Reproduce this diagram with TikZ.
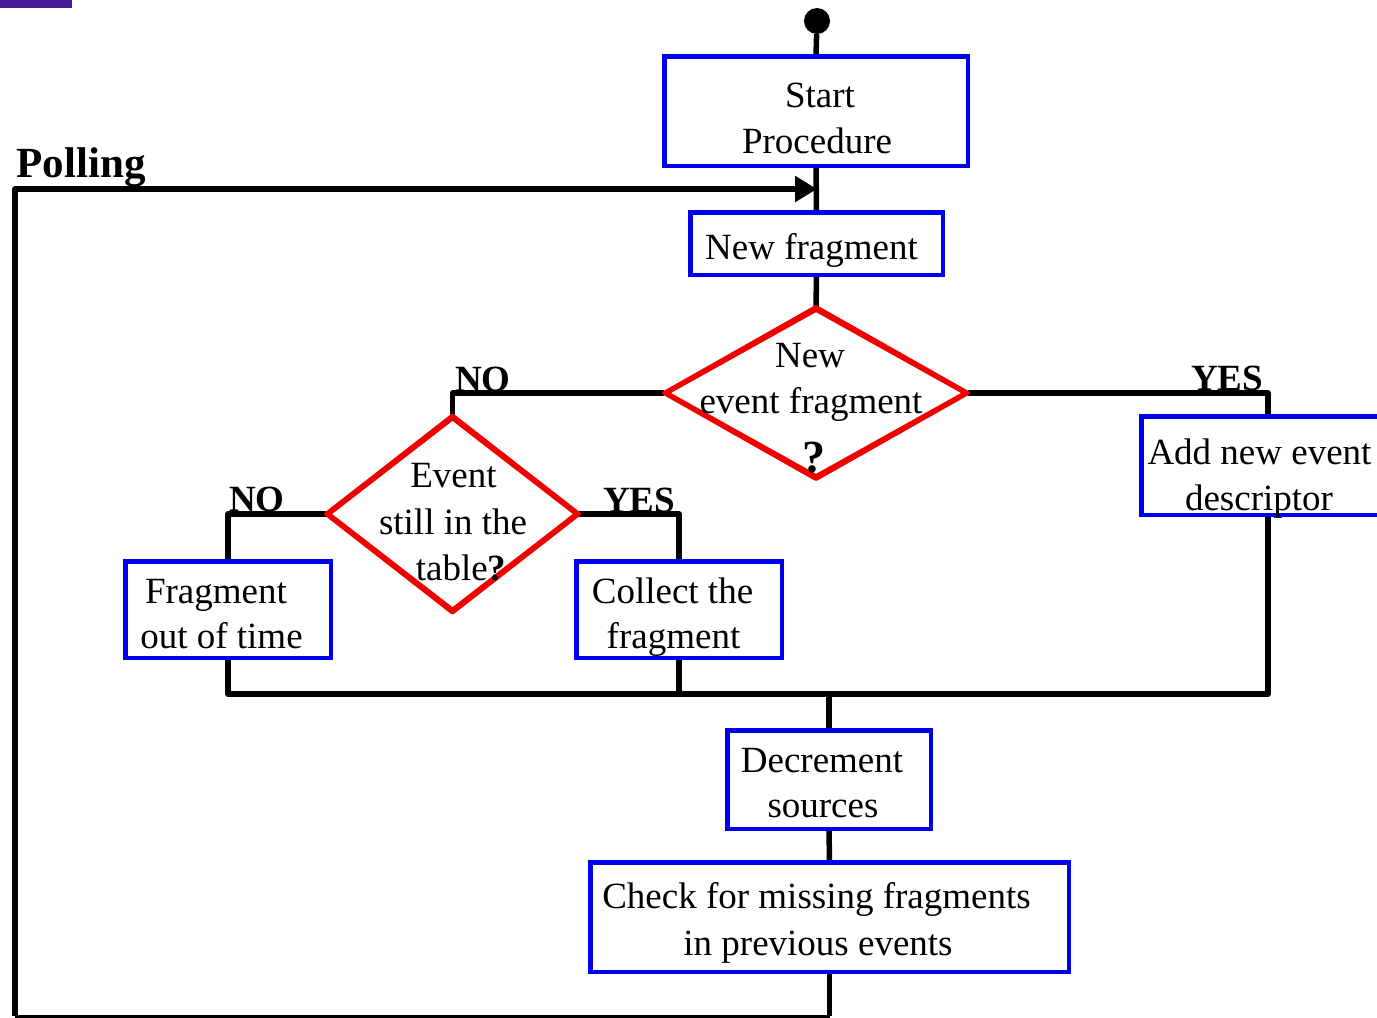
\documentclass[tikz,border=0pt]{standalone}
\usepackage{fontspec}
\setmainfont{Liberation Serif}
\usetikzlibrary{shapes.geometric,arrows.meta}
\definecolor{boxblue}{RGB}{0,0,240}
\definecolor{dred}{RGB}{240,0,0}
\definecolor{barpurple}{RGB}{72,28,152}
\begin{document}
\begin{tikzpicture}[x=1pt,y=-1pt,
  box/.style={draw=boxblue, line width=3pt, rectangle, inner sep=0pt, fill=white},
  dec/.style={draw=dred, line width=4pt, diamond, inner sep=0pt, fill=white},
  flow/.style={line width=5.5pt, line join=round},
  txt/.style={anchor=base, inner sep=0pt, font=\fontsize{37}{44}\selectfont},
  lab/.style={anchor=base, inner sep=0pt, font=\bfseries\fontsize{37}{44}\selectfont},
  biglab/.style={anchor=base, inner sep=0pt, font=\bfseries\fontsize{43}{50}\selectfont},
  qmark/.style={anchor=base, inner sep=0pt, font=\bfseries\fontsize{46}{50}\selectfont}]
\useasboundingbox (0,0) rectangle (1377,1018);
\fill[barpurple] (0,0) rectangle (72,8);

% nodes
\node[circle, fill=black, minimum size=26pt, inner sep=0pt] (dot) at (817,21) {};
\node[box, minimum width=302pt, minimum height=108pt] (start) at (816,111) {};
\node[box, minimum width=251pt, minimum height=61pt] (newfrag) at (816.5,243.5) {};
\node[dec, minimum width=300pt, minimum height=168pt] (d1) at (816,393) {};
\node[dec, minimum width=249pt, minimum height=193pt] (d2) at (452.5,514) {};
\node[box, minimum width=252pt, minimum height=97pt] (add) at (1268,465.5) {};
\node[box, minimum width=204pt, minimum height=95pt] (frag) at (228,609.5) {};
\node[box, minimum width=204pt, minimum height=95pt] (coll) at (679,609.5) {};
\node[box, minimum width=202pt, minimum height=97pt] (decr) at (829,779.5) {};
\node[box, minimum width=477pt, minimum height=108pt] (check) at (829.5,917) {};

\coordinate (join) at (817,189);
\coordinate (mergeL) at (228,694);
\coordinate (mergeR) at (1268,694);
\coordinate (loopbl) at (15,1016);
\coordinate (looptl) at (15,189);

% connectors
\draw[flow] (dot) -- (start.north);
\draw[flow] (start.south) -- (newfrag.north);
\draw[flow] (newfrag.south) -- (d1.north);
\draw[flow] (d1.west) -| (d2.north);
\draw[flow] (d1.east) -| (add.north);
\draw[flow] (d2.west) -| (frag.north);
\draw[flow] (d2.east) -| (coll.north);
\draw[flow] (frag.south) -- (mergeL) -- (mergeR) -- (add.south);
\draw[flow] (coll.south) -- (coll.south |- mergeL);
\draw[flow] (decr.north |- mergeL) -- (decr.north);
\draw[flow] (decr.south) -- (check.north);
\draw[flow] (check.south) -- (check.south |- loopbl);
\draw[line width=3pt] (check.south |- loopbl) -- (loopbl);
\draw[flow, -{Triangle[length=22pt,width=25pt]}] (loopbl) -- (looptl) -- (join);

% node borders drawn over connector ends
\draw[boxblue, line width=3pt] (start.north west) rectangle (start.south east);
\draw[boxblue, line width=3pt] (newfrag.north west) rectangle (newfrag.south east);
\draw[boxblue, line width=3pt] (add.north west) rectangle (add.south east);
\draw[boxblue, line width=3pt] (frag.north west) rectangle (frag.south east);
\draw[boxblue, line width=3pt] (coll.north west) rectangle (coll.south east);
\draw[boxblue, line width=3pt] (decr.north west) rectangle (decr.south east);
\draw[boxblue, line width=3pt] (check.north west) rectangle (check.south east);
\draw[dred, line width=4pt, line join=round] (d1.north) -- (d1.east) -- (d1.south) -- (d1.west) -- cycle;
\draw[dred, line width=4pt, line join=round] (d2.north) -- (d2.east) -- (d2.south) -- (d2.west) -- cycle;

% texts
\node[txt] (t1) at (820,107) {Start};
\node[txt] (t2) at (817,153) {Procedure};
\node[txt] (t3) at (811.5,259) {New fragment};
\node[txt] (t4) at (810,367) {New};
\node[txt] (t5) at (811,413) {event fragment};
\node[qmark] (t6) at (814,472) {?};
\node[txt] (t7) at (453.5,487) {Event};
\node[txt] (t8) at (453,534) {still in the};
\node[txt] (t9) at (461,580) {table\textbf{?}};
\node[txt] (t10) at (1259.5,464) {Add new event};
\node[txt] (t11) at (1259,510) {descriptor};
\node[txt] (t12) at (216,603) {Fragment};
\node[txt] (t13) at (221.5,648) {out of time};
\node[txt] (t14) at (672.5,603) {Collect the};
\node[txt] (t15) at (673.5,648) {fragment};
\node[txt] (t16) at (822,772) {Decrement};
\node[txt] (t17) at (823,817) {sources};
\node[txt] (t18) at (816.5,908) {Check for missing fragments};
\node[txt] (t19) at (818,955) {in previous events};

\node[biglab] (poll) at (81,177) {Polling};
\node[lab] (no1) at (483,391) {NO};
\node[lab] (yes1) at (1227,390) {YES};
\node[lab] (no2) at (257,511) {NO};
\node[lab] (yes2) at (639,512) {YES};
\end{tikzpicture}
\end{document}
